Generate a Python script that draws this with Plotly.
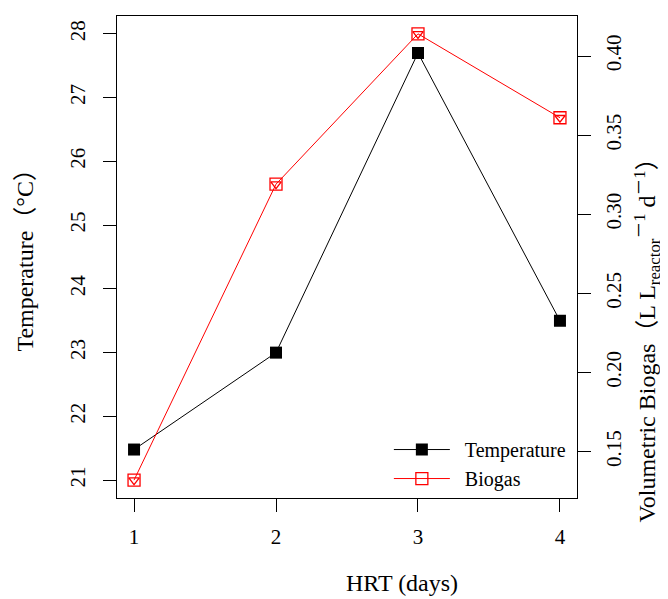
import plotly.graph_objects as go

hrt = [1, 2, 3, 4]
temperature = [21.48, 23.0, 27.7, 23.5]
biogas = [0.132, 0.319, 0.414, 0.361]

temp_ticks = [21, 22, 23, 24, 25, 26, 27, 28]
biogas_ticks = [0.15, 0.20, 0.25, 0.30, 0.35, 0.40]
biogas_ticklabels = ["0.15", "0.20", "0.25", "0.30", "0.35", "0.40"]

FONT = "Liberation Serif, Noto Sans CJK SC"
NB = "\u00a0\u00a0"

fig = go.Figure()
fig.add_trace(go.Scatter(
    x=hrt, y=temperature, name=NB + "Temperature", mode="lines+markers",
    line=dict(color="black", width=1),
    marker=dict(symbol="square", size=12, color="black"),
    yaxis="y"))
fig.add_trace(go.Scatter(
    x=hrt, y=biogas, name=NB + "Biogas", mode="lines+markers",
    line=dict(color="red", width=1),
    marker=dict(symbol="square-open", size=12, color="red", line=dict(width=1.3)),
    yaxis="y2"))
fig.add_trace(go.Scatter(
    x=hrt, y=biogas, name="Biogas", mode="markers", showlegend=False,
    marker=dict(symbol="triangle-down-open", size=9, color="red", line=dict(width=1.3)),
    yaxis="y2"))

xr = [1 - 0.12, 4 + 0.12]
tr = [21 - 0.28, 28 + 0.28]
bmin, bmax = min(biogas), max(biogas)
bpad = (bmax - bmin) * 0.04
br = [bmin - bpad, bmax + bpad]

common = dict(showgrid=False, zeroline=False, ticks="outside", ticklen=13,
              tickcolor="black", tickwidth=1, showline=True, linecolor="black",
              linewidth=1, automargin=False,
              tickfont=dict(family=FONT, size=21, color="black"))

fig.update_layout(
    width=660, height=591,
    margin=dict(l=109, r=91, t=8, b=101),
    paper_bgcolor="white", plot_bgcolor="white",
    font=dict(family=FONT, color="black"),
    xaxis=dict(range=xr, tickvals=hrt, ticktext=[str(v) for v in hrt],
               mirror=True, ticklabelstandoff=7, **common),
    yaxis=dict(range=tr, tickvals=temp_ticks, tickangle=-90,
               ticklabelstandoff=10, **common),
    yaxis2=dict(range=br, tickvals=biogas_ticks, ticktext=biogas_ticklabels,
                overlaying="y", side="right", tickangle=-90,
                ticklabelstandoff=5, **common),
    legend=dict(x=0.591, y=0.141, xanchor="left", yanchor="top",
                font=dict(family=FONT, size=20, color="black"),
                bgcolor="rgba(0,0,0,0)", tracegroupgap=0, itemwidth=56),
    showlegend=True,
    annotations=[
        dict(text="HRT (days)", xref="paper", yref="paper", x=0.62, y=-0.176,
             xanchor="center", yanchor="middle",
             showarrow=False, font=dict(family=FONT, size=24)),
        dict(text="Temperature（°C）", xref="paper", yref="paper", x=-0.2, y=0.505,
             xanchor="center", yanchor="middle",
             showarrow=False, textangle=-90, font=dict(family=FONT, size=24)),
        dict(text="Volumetric Biogas（L L<sub>reactor</sub><sup>－1</sup> d<sup>－1</sup>）",
             xref="paper", yref="paper", x=1.153, y=0.34,
             xanchor="center", yanchor="middle",
             showarrow=False, textangle=-90, font=dict(family=FONT, size=24)),
    ],
)

fig.write_html("out.html")
